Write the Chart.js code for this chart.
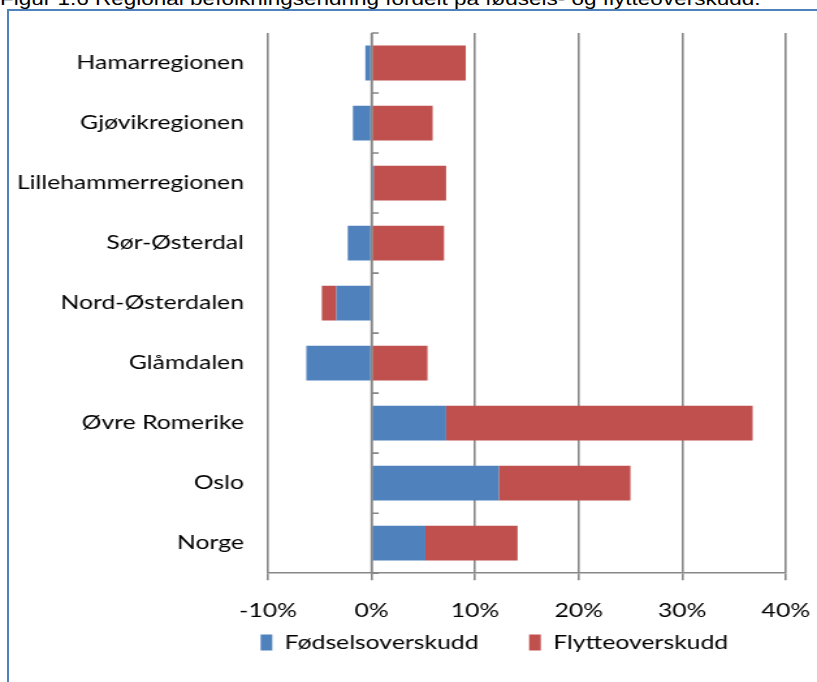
<!DOCTYPE html>
<html>
<head>
<meta charset="utf-8">
<script src="https://cdn.jsdelivr.net/npm/chart.js@4"></script>
<style>
  html, body { margin: 0; padding: 0; background: #fff; overflow: hidden; }
  body { width: 817px; height: 682px; position: relative; }
  #title {
    position: absolute; left: 0; top: -10px; white-space: nowrap;
    font: 18px "Liberation Sans", Arial, sans-serif; line-height: 18px; color: #000;
    transform: scaleX(1.25); transform-origin: left top;
  }
  #frame {
    position: absolute; left: 7px; top: 9px; width: 900px; height: 800px;
    border: 2px solid #4f81bd;
  }
  #chart { position: absolute; left: 0; top: 0; }
</style>
</head>
<body>
<div id="title">Figur 1.6 Regional befolkningsendring fordelt på fødsels- og flytteoverskudd.</div>
<div id="frame"></div>
<canvas id="chart" width="628" height="682" style="width:817px;height:682px"></canvas>
<script>
// values in percent
const categories = ['Hamarregionen', 'Gjøvikregionen', 'Lillehammerregionen', 'Sør-Østerdal',
  'Nord-Østerdalen', 'Glåmdalen', 'Øvre Romerike', 'Oslo', 'Norge'];
const fodselsoverskudd = [-0.6, -1.8, 0.2, -2.3, -3.4, -6.3, 7.2, 12.3, 5.2];
const flytteoverskudd = [9.1, 5.9, 7.0, 7.0, -1.4, 5.4, 29.6, 12.7, 8.9];
const xTicks = [-10, 0, 10, 20, 30, 40];

// the reference picture is stretched sideways, so the canvas is drawn narrow and scaled by css
const FONT = { family: 'Lato', size: 19 };
const GRID = '#878787';
const LEGEND_CENTER = 380;
const LEGEND_RAISE = 8;

// small ticks on the zero line + zero line drawn over the bars
const zeroAxis = {
  id: 'zeroAxis',
  afterLayout(chart) {
    // legend is not centred on the canvas in the original, and sits a bit higher
    const lg = chart.legend;
    const d = LEGEND_CENTER - (lg.left + lg.right) / 2;
    lg.left += d;
    lg.right += d;
    lg.top -= LEGEND_RAISE;
    lg.bottom -= LEGEND_RAISE;
  },
  afterDatasetsDraw(chart) {
    const { ctx, scales: { x, y } } = chart;
    const x0 = x.getPixelForValue(0);
    ctx.save();
    ctx.strokeStyle = GRID;
    ctx.lineWidth = 1.6;
    ctx.beginPath();
    for (let i = 0; i <= categories.length; i++) {
      const yy = y.getPixelForValue(i - 0.5);
      ctx.moveTo(x0, yy);
      ctx.lineTo(x0 + 5.5, yy);
    }
    ctx.moveTo(x0, y.top);
    ctx.lineTo(x0, y.bottom);
    ctx.stroke();
    ctx.restore();
  }
};

const ctx = document.getElementById('chart').getContext('2d');
new Chart(ctx, {
  type: 'bar',
  data: {
    labels: categories,
    datasets: [
      { label: 'Fødselsoverskudd', data: fodselsoverskudd, backgroundColor: '#4f81bd' },
      { label: 'Flytteoverskudd', data: flytteoverskudd, backgroundColor: '#c0504d' }
    ]
  },
  options: {
    indexAxis: 'y',
    responsive: false,
    animation: false,
    categoryPercentage: 1,
    barPercentage: 0.58,
    layout: { padding: { top: 33, left: 0, right: 24, bottom: 12 } },
    scales: {
      x: {
        stacked: true,
        min: -10,
        max: 40,
        afterBuildTicks: (s) => { s.ticks = xTicks.map(v => ({ value: v })); },
        // don't let the end labels push the plot area in
        afterFit: (s) => { s.paddingLeft = 0; s.paddingRight = 0; },
        ticks: { color: '#000', font: FONT, padding: 19, maxRotation: 0, callback: (v) => v + '%' },
        grid: { color: GRID, lineWidth: 1.6, tickLength: 7, tickColor: GRID },
        border: { color: GRID, width: 1.6 }
      },
      y: {
        stacked: true,
        afterFit: (s) => { s.width = 206; },
        ticks: { color: '#000', font: FONT, padding: 10.5 },
        grid: { display: false },
        border: { display: false }
      }
    },
    plugins: {
      legend: {
        position: 'bottom',
        labels: {
          color: '#000', font: FONT, boxWidth: 9, boxHeight: 16, padding: 0,
          // wider gap between the two entries
          generateLabels: (chart) => Chart.defaults.plugins.legend.labels.generateLabels(chart)
            .map((l, i) => ({ ...l, text: i === 0 ? l.text + '\u00a0'.repeat(8) : l.text }))
        }
      },
      tooltip: { enabled: false }
    }
  },
  plugins: [zeroAxis]
});
</script>
</body>
</html>
